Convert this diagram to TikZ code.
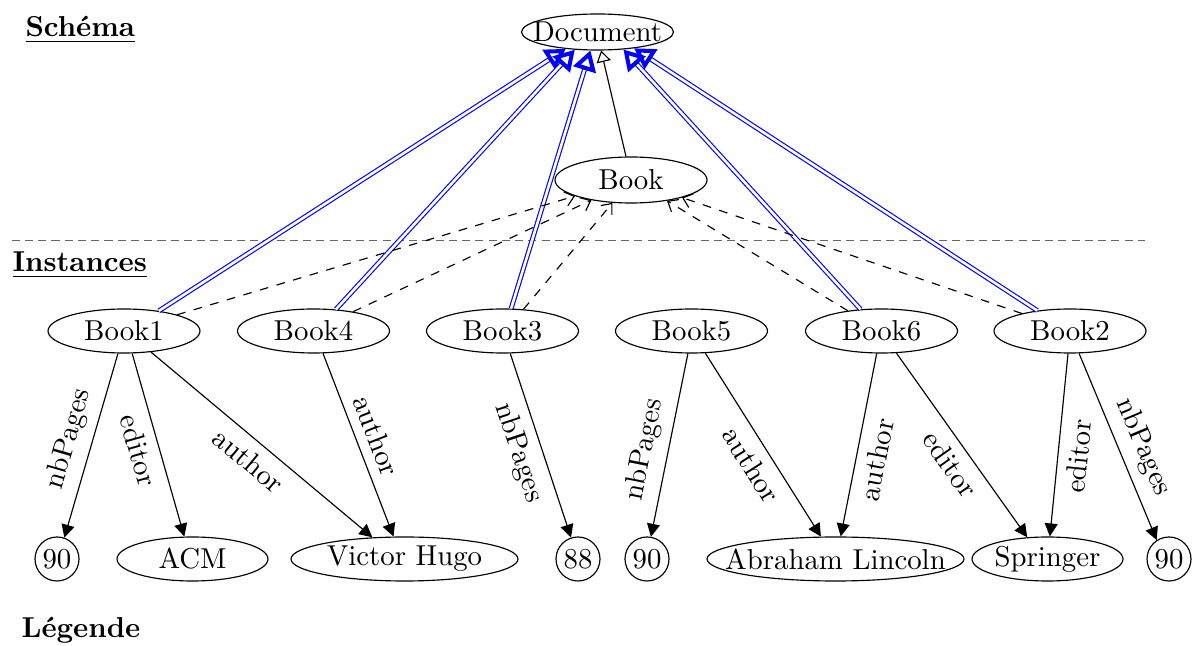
\documentclass[tikz,border=0pt]{standalone}
\usetikzlibrary{arrows.meta,shapes.geometric,calc}
\newcommand\pxu{0.3472pt}
\newcommand\zb[1]{\makebox[0pt]{#1}}
\begin{document}
\begin{tikzpicture}[x=0.3472pt, y=-0.3472pt,
  ell/.style={ellipse, draw, inner sep=0pt, minimum height=44*\pxu},
  circ/.style={circle, draw, inner sep=0pt, minimum size=44*\pxu},
  dbl/.style={draw=blue, double=white, line width=0.4pt, double distance=0.9pt},
  bluetip/.style={blue, line width=1.4pt, -{Triangle[open, length=7pt, width=8pt]}},
  inh/.style={-{Triangle[open, length=4pt, width=5pt, fill=white]}},
  inst/.style={dashed, -{Straight Barb[length=3pt, width=5pt]}},
  rel/.style={-{Triangle[length=4.5pt, width=4.5pt]}},
  lab/.style={sloped},
  title/.style={anchor=base west, inner sep=0pt, font=\bfseries}
]
\useasboundingbox (0,0) rectangle (1194,646);

% titles
\node[title] (schema) at (25,37) {\underline{Schéma}};
\node[title] (instances) at (12,272) {\underline{Instances}};
\node[title] (legende) at (21,638) {Légende};

% separator
\coordinate (sepL) at (11.7,240.7);
\coordinate (sepR) at (1145,240.7);
\draw[black!60, dash pattern=on 2.8pt off 1.8pt] (sepL) -- (sepR);

% schema nodes
\node[ell, minimum width=152*\pxu, minimum height=36*\pxu] (doc) at (597.5,32) {\zb{Document}};
\node[ell, minimum width=152*\pxu, minimum height=46*\pxu] (book) at (631,180) {\zb{Book}};

% instance nodes
\node[ell, minimum width=152*\pxu] (b1) at (124,331) {\zb{Book1}};
\node[ell, minimum width=152*\pxu] (b4) at (313.5,331) {\zb{Book4}};
\node[ell, minimum width=152*\pxu] (b3) at (502.5,331) {\zb{Book3}};
\node[ell, minimum width=152*\pxu] (b5) at (691.5,331) {\zb{Book5}};
\node[ell, minimum width=152*\pxu] (b6) at (881.5,331) {\zb{Book6}};
\node[ell, minimum width=152*\pxu] (b2) at (1070,331) {\zb{Book2}};

% value nodes
\node[circ] (n90a) at (57,559) {90};
\node[ell, minimum width=151*\pxu] (acm) at (192.5,559) {\zb{ACM}};
\node[ell, minimum width=227*\pxu] (vh) at (404.5,559) {\zb{Victor Hugo}};
\node[circ] (n88) at (578,559) {88};
\node[circ] (n90b) at (647,559) {90};
\node[ell, minimum width=257*\pxu] (al) at (835.5,559) {\zb{Abraham Lincoln}};
\node[ell, minimum width=151*\pxu] (spr) at (1047.5,559) {\zb{Springer}};
\node[circ] (n90c) at (1169,559) {90};

% blue instance-of-Document links
\foreach \s/\sa/\ta in {b1/30/208, b4/44/218, b3/69/249, b6/134/326, b2/148/336} {
  \draw[dbl, shorten >=7pt] (\s.\sa) -- (doc.\ta);
  \draw[bluetip] ($(doc.\ta)!7pt!(\s.\sa)$) -- (doc.\ta);
}

% Book subclass of Document
\draw[inh] (book.102) -- (doc.281);

% dashed type links
\foreach \s/\sa/\ta in {b1/17/196, b4/26/207, b3/46/231, b6/149/330, b2/160/341}
  \draw[inst] (\s.\sa) -- (book.\ta);

% property edges
\draw[rel] (b1.255) -- node[lab, above, pos=0.5] (l1) {nbPages} (n90a.71);
\draw[rel] (b1.290) -- node[lab, below, pos=0.5] (l2) {editor} (acm.110);
\draw[rel] (b1.322) -- node[lab, below, pos=0.5] (l3) {author} (vh.146);
\draw[rel] (b4.293) -- node[lab, above, pos=0.49] (l4) {author} (vh.116);
\draw[rel] (b3.289) -- node[lab, below, pos=0.5] (l5) {nbPages} (n88.108);
\draw[rel] (b5.261) -- node[lab, above, pos=0.55] (l6) {nbPages} (n90b.80);
\draw[rel] (b5.302) -- node[lab, below, pos=0.55] (l7) {author} (al.123);
\draw[rel] (b6.258) -- node[lab, below, pos=0.56] (l8) {author} (al.77);
\draw[rel] (b6.304) -- node[lab, below, pos=0.54] (l9) {editor} (spr.133);
\draw[rel] (b2.265) -- node[lab, below, pos=0.55] (l10) {editor} (spr.84);
\draw[rel] (b2.292) -- node[lab, above, pos=0.55] (l11) {nbPages} (n90c.123);
\end{tikzpicture}
\end{document}
